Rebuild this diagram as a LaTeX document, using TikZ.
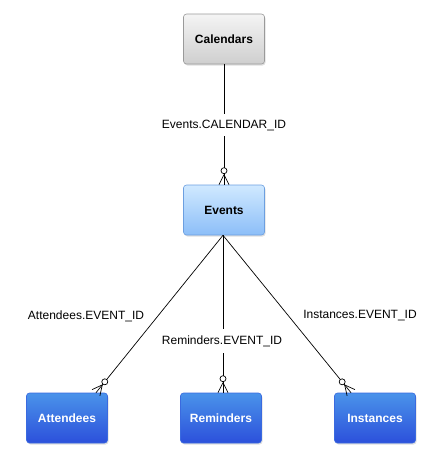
\documentclass[tikz,border=0pt]{standalone}
\usepackage{fontspec}
\setmainfont{Liberation Sans}
\usetikzlibrary{calc,shadows}
\definecolor{grayTop}{HTML}{F4F4F4}
\definecolor{grayBot}{HTML}{CFCFCF}
\definecolor{grayLine}{HTML}{9A9A9A}
\definecolor{evTop}{HTML}{D0E9FF}
\definecolor{evBot}{HTML}{8CBEF8}
\definecolor{evLine}{HTML}{6C9FE0}
\definecolor{blTop}{HTML}{4A93EA}
\definecolor{blBot}{HTML}{2C50DB}
\definecolor{blLine}{HTML}{3A6ADF}
\newcommand{\erlink}[2]{%
  \draw[link] (#1) -- ($(#2)!17pt!(#1)$);
  \draw[link] ($(#2)!11pt!(#1)$) -- (#2);
  \draw[link] ($(#2)!14pt!(#1)$) circle (3pt);
  \draw[link] ($(#2)!10pt!(#1)$) -- ($(#2)!5pt!90:(#1)$);
  \draw[link] ($(#2)!10pt!(#1)$) -- ($(#2)!5pt!-90:(#1)$);
}
\begin{document}
\begin{tikzpicture}[x=1pt,y=-1pt,
  box/.style={rounded corners=3pt, minimum width=81pt, minimum height=50pt,
    font=\fontsize{12}{14}\selectfont\bfseries, line width=0.6pt,
    drop shadow={shadow xshift=1pt,shadow yshift=-1.5pt,opacity=0.25}},
  graybox/.style={box, draw=grayLine, top color=grayTop, bottom color=grayBot},
  evbox/.style={box, draw=evLine, top color=evTop, bottom color=evBot},
  bluebox/.style={box, draw=blLine, top color=blTop, bottom color=blBot, text=white},
  link/.style={line width=0.7pt, black},
  lbl/.style={font=\fontsize{12}{14}\selectfont, inner sep=1pt},
  gaplbl/.style={lbl, fill=white, inner ysep=6pt, inner xsep=2pt}]
\useasboundingbox (0,0) rectangle (445,459);
\node[graybox] (cal) at (224,39) {Calendars};
\node[evbox] (ev) at (224,210) {Events};
\node[bluebox] (att) at (67,418) {Attendees};
\node[bluebox] (rem) at (221,418) {Reminders};
\node[bluebox] (ins) at (375,418) {Instances};
\coordinate (evBot) at ($(ev.south)+(-1,0)$);
\coordinate (attTop) at ($(att.north)+(29,0)$);
\coordinate (remTop) at (evBot |- rem.north);
\coordinate (insTop) at ($(ins.north)+(-24,0)$);
\erlink{cal.south}{ev.north}
\erlink{evBot}{attTop}
\erlink{evBot}{remTop}
\erlink{evBot}{insTop}
\node[gaplbl] (l1) at (224,125) {Events.CALENDAR\_ID};
\node[lbl] (l2) at (86,316) {Attendees.EVENT\_ID};
\node[gaplbl] (l3) at (222,341) {Reminders.EVENT\_ID};
\node[lbl] (l4) at (360,316) {Instances.EVENT\_ID};
\end{tikzpicture}
\end{document}
